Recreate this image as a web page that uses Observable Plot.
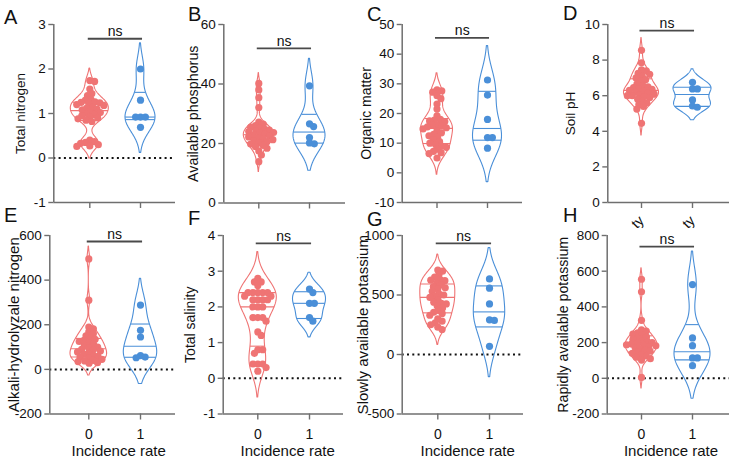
<!DOCTYPE html>
<html><head><meta charset="utf-8">
<script src="https://cdn.jsdelivr.net/npm/d3@7"></script>
<script src="https://cdn.jsdelivr.net/npm/@observablehq/plot@0.6"></script>
<style>
body{margin:0;background:#fff;}
#fig{position:relative;width:729px;height:457px;overflow:hidden;background:#fff;font-family:"Liberation Sans",Arial,sans-serif;}
.panel{position:absolute;}
.panel svg{overflow:visible;}
.panel svg g[aria-label^="x-axis"], .panel svg g[aria-label^="y-axis"]{color:#6f6f6f;}
.panel svg g[aria-label^="x-axis"] text, .panel svg g[aria-label^="y-axis"] text{fill:#111;}
.panel svg g[aria-label^="x-axis"] line, .panel svg g[aria-label^="y-axis"] line,
.panel svg g[aria-label^="x-axis"] path, .panel svg g[aria-label^="y-axis"] path{stroke-width:1.4px;}
.panel svg g[aria-label^="y-axis"] text{font-size:13.5px;}
.panel svg g[aria-label^="x-axis"] text{font-size:14px;}
#letters{position:absolute;left:0;top:0;pointer-events:none;}
</style></head><body><div id="fig"></div>
<script>
// ---------- data ----------
const groups = [0, 1];
const xTickLabels = ["0", "1"];
const cutTickLabels = ["ty", "ty"];
const xTitle = "Incidence rate";
const sigLabel = "ns";
const letters = ["A", "B", "C", "D", "E", "F", "G", "H"];
const yLabels = ["Total nitrogen", "Available phosphorus", "Organic matter", "Soil pH",
  "Alkali-hydrolyzale nitrogen", "Total salinity", "Slowly available potassium", "Rapidly available potassium"];

const yTicksA = [-1, 0, 1, 2, 3];
const yTicksB = [0, 20, 40, 60];
const yTicksC = [-10, 0, 10, 20, 30, 40, 50];
const yTicksD = [0, 2, 4, 6, 8, 10];
const yTicksE = [-200, 0, 200, 400, 600];
const yTicksF = [-1, 0, 1, 2, 3, 4];
const yTicksG = [-500, 0, 500, 1000];
const yTicksH = [-200, 0, 200, 400, 600, 800];

const nitrogen0 = [1.74, 1.72, 1.55, 1.45, 1.40, 1.32, 1.30, 1.26, 1.25, 1.24, 1.22, 1.20, 1.18, 1.15, 1.12, 1.10, 1.08, 1.05, 1.02, 1.00, 0.98, 0.95, 0.92, 0.90, 0.88, 0.85, 0.82, 0.40, 0.37, 0.35, 0.33, 0.30, 0.27, 0.26];
const nitrogen1 = [2.00, 1.30, 0.92, 0.92, 0.92, 0.69];
const phosphorus0 = [40.2, 38.0, 35.4, 32.1, 27.2, 26.5, 26.0, 25.5, 25.2, 24.8, 24.5, 24.2, 24.0, 23.7, 23.4, 23.1, 22.8, 22.5, 22.2, 21.9, 21.6, 21.3, 21.0, 20.6, 20.2, 19.8, 19.4, 19.0, 18.4, 17.5, 16.1, 13.9];
const phosphorus1 = [39.4, 26.6, 25.7, 22.0, 20.2, 19.9];
const organic0 = [28.0, 27.6, 27.2, 26.0, 25.0, 23.2, 21.5, 19.2, 18.0, 17.8, 17.5, 17.3, 16.2, 16.0, 15.8, 15.5, 15.2, 14.8, 14.2, 13.5, 13.0, 12.5, 12.0, 11.2, 10.5, 10.0, 9.5, 9.0, 8.6, 8.0, 7.2, 6.8, 6.5, 5.0];
const organic1 = [31.3, 26.2, 18.0, 11.9, 11.9, 8.3];
const ph0 = [8.55, 7.85, 7.45, 7.40, 7.25, 7.20, 7.10, 7.00, 6.90, 6.80, 6.65, 6.55, 6.50, 6.45, 6.40, 6.35, 6.30, 6.25, 6.20, 6.15, 6.10, 6.05, 6.00, 6.00, 5.95, 5.90, 5.80, 5.70, 5.60, 5.50, 5.40, 5.25, 4.45];
const ph1 = [6.75, 6.38, 6.38, 5.76, 5.42, 5.35];
const alkaliN0 = [495, 310, 190, 182, 168, 160, 150, 140, 135, 130, 125, 118, 112, 108, 100, 95, 90, 88, 82, 78, 72, 68, 62, 58, 55, 50, 45, 40, 38, 35, 30, 28];
const alkaliN1 = [288, 175, 145, 62, 55, 52];
const salinity0 = [2.8, 2.7, 2.7, 2.6, 2.4, 2.4, 2.4, 2.4, 2.4, 2.3, 2.3, 2.2, 2.2, 2.2, 2.2, 2.0, 2.0, 2.0, 1.7, 1.7, 1.7, 1.6, 1.3, 1.2, 0.8, 0.8, 0.7, 0.4, 0.4, 0.4, 0.3, 0.2];
const salinity1 = [2.5, 2.4, 2.1, 2.1, 1.7, 1.6];
const slowK0 = [710, 700, 670, 650, 630, 625, 620, 600, 585, 570, 560, 550, 530, 510, 500, 490, 480, 460, 440, 430, 425, 410, 390, 370, 355, 345, 330, 300, 280, 265, 250, 230, 210];
const slowK1 = [635, 557, 425, 291, 286, 69];
const rapidK0 = [555, 485, 325, 272, 265, 255, 248, 240, 232, 225, 218, 210, 205, 200, 196, 192, 188, 185, 182, 178, 172, 165, 158, 152, 145, 140, 132, 125, 118, 110, 102, 5];
const rapidK1 = [525, 226, 183, 114, 114, 71];

const sigY = [2.68, 52, 45.5, 9.66, 573, 3.78, 933, 738];

// ---------- layout / style ----------
const colors = ["#EF7474", "#4A8FD8"];
const panelData = [
  [nitrogen0, nitrogen1, yTicksA], [phosphorus0, phosphorus1, yTicksB],
  [organic0, organic1, yTicksC], [ph0, ph1, yTicksD],
  [alkaliN0, alkaliN1, yTicksE], [salinity0, salinity1, yTicksF],
  [slowK0, slowK1, yTicksG], [rapidK0, rapidK1, yTicksH]
];
const layout = [
  {left:0,   top:0, w:180, h:225, axis:53.3,  g0:89.3,  g1:140, right:175, ftop:24, fbot:202, lab:33,  ls:13.5, hw:[19,15],   zero:true,  xl:"none"},
  {left:180, top:0, w:180, h:225, axis:223.3, g0:258.3, g1:309, right:345, ftop:24, fbot:202.5, lab:30, ls:14.3, hw:[15,16], zero:false, xl:"none"},
  {left:360, top:0, w:180, h:225, axis:401.7, g0:436.5, g1:487, right:522, ftop:24, fbot:202, lab:36,  ls:14,   hw:[16,14.5], zero:false, xl:"none"},
  {left:540, top:0, w:189, h:225, axis:607.3, g0:641,   g1:692, right:729, ftop:24, fbot:202, lab:37,  ls:13.5, hw:[17.5,19], zero:false, xl:"cut"},
  {left:0,   top:225, w:180, h:232, axis:49.3,  g0:88.3,  g1:140, right:175, ftop:235, fbot:413.5, lab:36, ls:15,   hw:[18.3,16.7], zero:true, xl:"num"},
  {left:180, top:225, w:180, h:232, axis:222.7, g0:257.3, g1:309, right:343, ftop:235, fbot:413.5, lab:33, ls:14,   hw:[19,16.5],   zero:true, xl:"num"},
  {left:360, top:225, w:180, h:232, axis:401.7, g0:437.3, g1:489, right:523, ftop:235, fbot:413.5, lab:39, ls:15,   hw:[17.5,15.7], zero:true, xl:"num"},
  {left:540, top:225, w:189, h:232, axis:606.7, g0:641,   g1:692, right:729, ftop:235, fbot:413.5, lab:43.5, ls:14.2, hw:[16,18],   zero:true, xl:"num"}
];
const letterPos = [[4,24],[188,21],[367,21],[563,20],[4,222],[188,225],[367,226],[563,222]];

// ---------- helpers ----------
function q6(s, p) {
  const n = s.length, h = (n + 1) * p;
  if (h <= 1) return s[0];
  if (h >= n) return s[n - 1];
  const lo = Math.floor(h);
  return s[lo - 1] + (h - lo) * (s[lo] - s[lo - 1]);
}
function bandwidth(s) {
  const sd = d3.deviation(s);
  const iqr = q6(s, 0.75) - q6(s, 0.25);
  const a = iqr > 0 ? Math.min(sd, iqr / 1.34) : sd;
  return 0.9 * a * Math.pow(s.length, -0.2);
}
function swarm(values, yPx, D) {
  const idx = d3.range(values.length).sort((a, b) => yPx(values[a]) - yPx(values[b]));
  const placed = [], out = new Array(values.length);
  for (const i of idx) {
    const y = yPx(values[i]);
    const iv = [];
    for (const p of placed) {
      const dy = Math.abs(p.y - y);
      if (dy < D) { const w = Math.sqrt(D * D - dy * dy); iv.push([p.x - w, p.x + w]); }
    }
    const cands = [0];
    for (const [a, b] of iv) cands.push(a, b);
    cands.sort((a, b) => Math.abs(a) - Math.abs(b) || b - a);
    let x = 0;
    for (const c of cands) {
      if (iv.every(([a, b]) => c <= a + 1e-6 || c >= b - 1e-6)) { x = c; break; }
    }
    placed.push({x, y}); out[i] = x;
  }
  return out;
}

const fig = document.getElementById("fig");

layout.forEach((L, i) => {
  const [v0, v1, ticks] = panelData[i];
  const vals = [v0, v1];
  const ymin = ticks[0], ymax = ticks[ticks.length - 1];
  const ml = L.axis - L.left, mr = L.left + L.w - L.right;
  const mt = L.ftop - L.top, mb = L.top + L.h - L.fbot;
  const step = L.g1 - L.g0;
  const xmin = -(L.g0 - L.axis) / step, xmax = 1 + (L.right - L.g1) / step;
  const pyPerUnit = (L.fbot - L.ftop) / (ymax - ymin);
  const yPx = v => (ymax - v) * pyPerUnit;
  const marks = [];
  if (L.zero) marks.push(Plot.ruleY([0], {stroke: "#111", strokeWidth: 2, strokeDasharray: "2,3.3"}));
  marks.push(Plot.ruleX([xmin], {stroke: "#6f6f6f", strokeWidth: 1.5}));
  marks.push(Plot.ruleY([ymin], {stroke: "#6f6f6f", strokeWidth: 1.5}));
  groups.forEach((g, k) => {
    const v = vals[k];
    const s = d3.sort(v);
    const h = bandwidth(s);
    const lo = s[0] - 2 * h, hi = s[s.length - 1] + 2 * h;
    const dens = y => d3.sum(s, x => Math.exp(-0.5 * ((y - x) / h) ** 2));
    const N = 200;
    const grid = d3.range(N + 1).map(j => lo + (hi - lo) * j / N);
    const dv = grid.map(dens);
    const dmax = d3.max(dv);
    const hw = L.hw[k] / step;
    const rows = grid.map((y, j) => ({y, x1: g - dv[j] / dmax * hw, x2: g + dv[j] / dmax * hw}));
    marks.push(Plot.areaX(rows, {y: "y", x1: "x1", x2: "x2", fill: "none", stroke: colors[k], strokeWidth: 1.1}));
    const qrows = [0.25, 0.5, 0.75].map(p => {
      const q = q6(s, p); const w = dens(q) / dmax * hw;
      return {y: q, x1: g - w, x2: g + w};
    });
    marks.push(Plot.ruleY(qrows, {y: "y", x1: "x1", x2: "x2", stroke: colors[k], strokeWidth: 1.1}));
    const off = swarm(v, yPx, 4.9);
    const pts = v.map((y, j) => ({y, x: g + off[j] / step}));
    marks.push(Plot.dot(pts, {x: "x", y: "y", r: 3.6, fill: colors[k]}));
  });
  marks.push(Plot.ruleY([sigY[i]], {x1: groups[0] - 0.03, x2: groups[1] + 0.04, stroke: "#4a4a4a", strokeWidth: 1.8}));
  marks.push(Plot.text([sigY[i]], {x: (groups[0] + groups[1]) / 2, y: d => d, text: () => sigLabel, dy: -7, fontSize: 14, fill: "#111"}));
  marks.push(Plot.text([yLabels[i]], {frameAnchor: "left", textAnchor: "middle", lineAnchor: "middle", dx: -L.lab, rotate: -90, text: d => d, fontSize: L.ls, fill: "#111"}));
  if (L.xl === "num") {
    marks.push(Plot.text([xTitle], {x: (groups[0] + groups[1]) / 2, frameAnchor: "bottom", textAnchor: "middle", dy: 41.5, dx: 4, lineAnchor: "bottom", text: d => d, fontSize: 15, fill: "#111"}));
  }
  const xopts = {domain: [xmin, xmax], ticks: groups, tickSize: 6, tickPadding: 9, label: null};
  if (L.xl === "num") xopts.tickFormat = d => xTickLabels[d];
  else if (L.xl === "cut") { xopts.tickFormat = d => cutTickLabels[d]; xopts.tickRotate = -45; xopts.tickPadding = 10; }
  else xopts.tickFormat = () => "";
  const chart = Plot.plot({
    width: L.w, height: L.h,
    marginLeft: ml, marginRight: mr, marginTop: mt, marginBottom: mb,
    style: {background: "transparent", fontFamily: "Liberation Sans, Arial, sans-serif", fontSize: "13px", color: "#111", overflow: "visible"},
    x: xopts,
    y: {domain: [ymin, ymax], ticks: ticks, tickFormat: d => String(d), tickSize: 5, tickPadding: 3, label: null},
    marks
  });
  const div = document.createElement("div");
  div.className = "panel";
  div.style.left = L.left + "px"; div.style.top = L.top + "px";
  div.style.width = L.w + "px"; div.style.height = L.h + "px";
  div.appendChild(chart);
  fig.appendChild(div);
});

const ov = d3.select("#fig").append("svg").attr("id", "letters").attr("width", 729).attr("height", 457);
ov.selectAll("text").data(letters).join("text")
  .attr("x", (d, i) => letterPos[i][0]).attr("y", (d, i) => letterPos[i][1])
  .attr("font-family", "Liberation Sans, Arial, sans-serif").attr("font-size", 20).attr("fill", "#111")
  .text(d => d);
</script>
</body></html>
